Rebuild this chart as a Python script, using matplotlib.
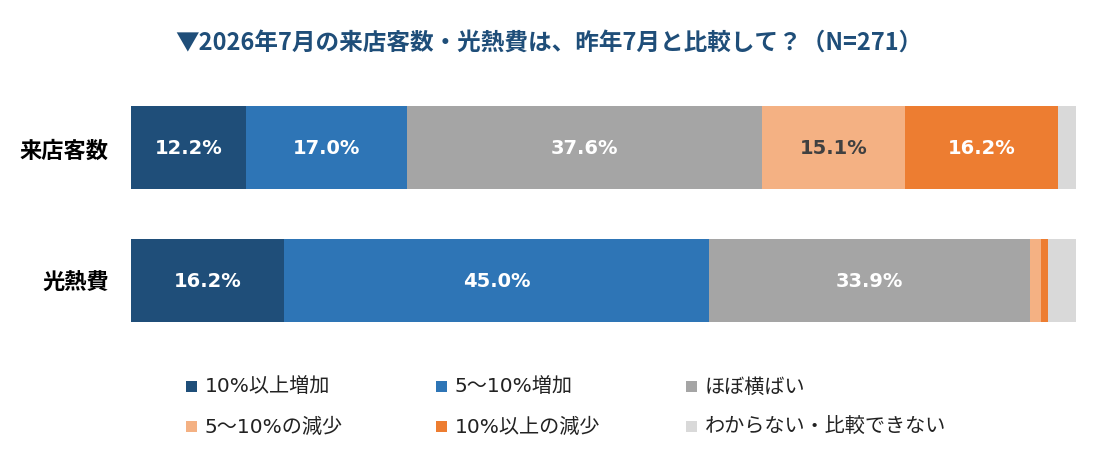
import matplotlib
matplotlib.use("Agg")
import matplotlib.pyplot as plt
from matplotlib.patches import Rectangle
import numpy as np

# data
categories = ["来店客数", "光熱費"]
series_names = ["10%以上増加", "5～10%増加", "ほぼ横ばい",
                "5～10%の減少", "10%以上の減少", "わからない・比較できない"]
visitors = [12.2, 17.0, 37.6, 15.1, 16.2, 1.9]
utilities = [16.2, 45.0, 33.9, 1.2, 0.7, 3.0]
colors = ["#1F4E79", "#2E75B6", "#A5A5A5", "#F4B183", "#ED7D31", "#D9D9D9"]
label_colors = ["white", "white", "white", "#404040", "white", "white"]
title = "▼2026年7月の来店客数・光熱費は、昨年7月と比較して？（N=271）"

jp = ["Noto Sans CJK JP", "DejaVu Sans"]
latin_jp = ["DejaVu Sans", "Noto Sans CJK JP"]

W, H = 1120, 464
fig = plt.figure(figsize=(W / 100, H / 100), dpi=100)
ax = fig.add_axes([131 / W, 1 - 350 / H, 945 / W, 270 / H])

values = np.array([visitors, utilities])
ypos = np.arange(len(categories))
left = np.zeros(len(categories))
for j in range(values.shape[1]):
    ax.barh(ypos, values[:, j], left=left, height=0.625, color=colors[j], edgecolor="none")
    for i in range(len(categories)):
        v = values[i, j]
        if v >= 5:
            ax.text(left[i] + v / 2, ypos[i], f"{v:.1f}%", ha="center", va="center",
                    color=label_colors[j], fontsize=14, fontweight="bold", family="DejaVu Sans")
    left += values[:, j]

ax.set_xlim(0, 100)
ax.set_ylim(1.519, -0.515)
ax.set_yticks(ypos)
ax.set_yticklabels(categories, family=jp, fontsize=16, fontweight="bold")
ax.tick_params(axis="y", length=0, pad=16)
ax.set_xticks([])
for s in ax.spines.values():
    s.set_visible(False)

fig.text(549 / W, 1 - 43 / H, title, ha="center", va="center", family=jp,
         fontsize=17, fontweight="bold", color="#1F4E79")

# legend, 3 columns x 2 rows
for k, name in enumerate(series_names):
    col, row = k % 3, k // 3
    x0 = 186 + col * 250
    yc = 387 + row * 40
    fig.add_artist(Rectangle((x0 / W, 1 - (yc + 5.5) / H), 11 / W, 11 / H,
                             transform=fig.transFigure, color=colors[k], lw=0))
    fig.text((x0 + 19) / W, 1 - yc / H, name, ha="left", va="center",
             family=latin_jp, fontsize=14.5, color="#222222")

fig.savefig("out.png", dpi=100)
